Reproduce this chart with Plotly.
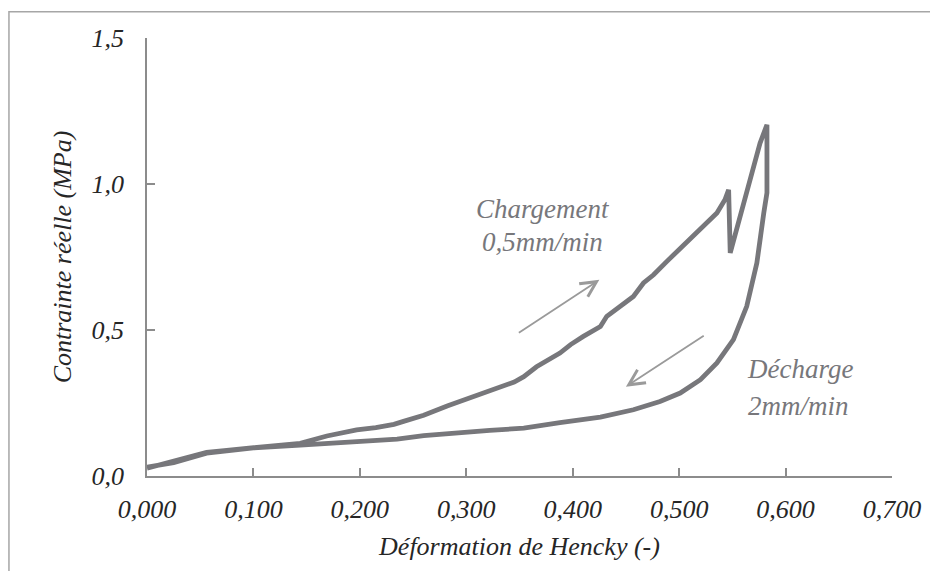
import plotly.graph_objects as go

# ------------------------------
# Data
# ------------------------------
# loading branch (0,5 mm/min)
load_strain = [0.000, 0.010, 0.025, 0.040, 0.056, 0.075, 0.100, 0.120, 0.144,
               0.169, 0.197, 0.215, 0.232, 0.241, 0.260, 0.282, 0.307, 0.332,
               0.345, 0.354, 0.366, 0.388, 0.398, 0.410, 0.426, 0.432, 0.445,
               0.457, 0.4665, 0.476, 0.4885, 0.498, 0.510, 0.523, 0.5355,
               0.543, 0.5465, 0.548, 0.557, 0.567, 0.576, 0.5825]
load_stress = [0.027, 0.036, 0.050, 0.064, 0.081, 0.088, 0.098, 0.104, 0.112,
               0.137, 0.158, 0.166, 0.177, 0.187, 0.208, 0.240, 0.272, 0.306,
               0.322, 0.340, 0.374, 0.421, 0.450, 0.478, 0.512, 0.547, 0.581,
               0.615, 0.661, 0.689, 0.735, 0.769, 0.815, 0.861, 0.901,
               0.946, 0.980, 0.764, 0.889, 1.015, 1.140, 1.203]

# unloading branch (2 mm/min)
unload_strain = [0.5825, 0.5795, 0.573, 0.5635, 0.551, 0.5355, 0.520, 0.501,
                 0.482, 0.457, 0.426, 0.388, 0.354, 0.322, 0.291, 0.260,
                 0.235, 0.197, 0.169, 0.144, 0.100, 0.056, 0.025, 0.000]
unload_stress = [0.970, 0.900, 0.729, 0.581, 0.467, 0.387, 0.330, 0.284,
                 0.255, 0.227, 0.202, 0.183, 0.164, 0.156, 0.149, 0.138,
                 0.126, 0.119, 0.113, 0.106, 0.096, 0.078, 0.046, 0.030]

x_ticks = [0.0, 0.1, 0.2, 0.3, 0.4, 0.5, 0.6, 0.7]
y_ticks = [0.0, 0.5, 1.0, 1.5]

FONT = "Liberation Serif"
CURVE = "#77777b"
AXIS = "#8c8c8c"
TEXT = "#262626"
NOTE = "#77777b"
ARROW = "#9a9a9a"

fig = go.Figure()

fig.add_trace(go.Scatter(
    x=load_strain + unload_strain,
    y=load_stress + unload_stress,
    mode="lines",
    line=dict(color=CURVE, width=4.8),
    showlegend=False,
))

# ------------------------------
# Notes + arrows
# ------------------------------
notes = [
    ("Chargement", 0.372, 0.915),
    ("0,5mm/min", 0.372, 0.802),
    ("Décharge", 0.614, 0.368),
    ("2mm/min", 0.6125, 0.241),
]
for txt, nx, ny in notes:
    fig.add_annotation(x=nx, y=ny, text=txt, showarrow=False,
                       font=dict(family=FONT, size=27, color=NOTE,
                                 style="italic"))

arrows = [
    ((0.348, 0.487), (0.425, 0.672)),
    ((0.5245, 0.484), (0.450, 0.306)),
]
for (tx, ty), (hx, hy) in arrows:
    fig.add_annotation(x=hx, y=hy, ax=tx, ay=ty, xref="x", yref="y",
                       axref="x", ayref="y", text="", showarrow=True,
                       arrowhead=5, arrowsize=1.7, arrowwidth=1.8,
                       arrowcolor=ARROW)

# outer frame of the picture
fig.add_shape(type="rect", xref="paper", yref="paper",
              x0=-0.1853, x1=1.2, y0=-0.4, y1=1.060,
              line=dict(color="#a6a6a6", width=1.5))

# ------------------------------
# Layout (page body adds ~8px offset)
# ------------------------------
fig.update_layout(
    width=938,
    height=571,
    margin=dict(l=139, r=54, t=30, b=103),
    plot_bgcolor="white",
    paper_bgcolor="white",
    separators=", ",
    font=dict(family=FONT, color=TEXT),
)

fig.update_xaxes(
    range=[0, 0.7],
    tickvals=x_ticks,
    tickformat=".3f",
    ticks="inside",
    ticklen=8,
    tickwidth=1.5,
    tickcolor=AXIS,
    showline=True,
    linecolor=AXIS,
    linewidth=1.5,
    showgrid=False,
    zeroline=False,
    ticklabelstandoff=9,
    tickfont=dict(family=FONT, size=26, color=TEXT, style="italic"),
    title=dict(text="Déformation de Hencky (-)",
               font=dict(family=FONT, size=26, color=TEXT, style="italic"),
               standoff=14),
)

fig.update_yaxes(
    range=[0, 1.5],
    tickvals=y_ticks,
    tickformat=".1f",
    ticks="inside",
    ticklen=8,
    tickwidth=1.5,
    tickcolor=AXIS,
    showline=True,
    linecolor=AXIS,
    linewidth=1.5,
    showgrid=False,
    zeroline=False,
    ticklabelstandoff=16,
    tickfont=dict(family=FONT, size=26, color=TEXT, style="italic"),
    title=dict(text="Contrainte réelle (MPa)",
               font=dict(family=FONT, size=26, color=TEXT, style="italic"),
               standoff=12),
)

fig.write_html("out.html")
